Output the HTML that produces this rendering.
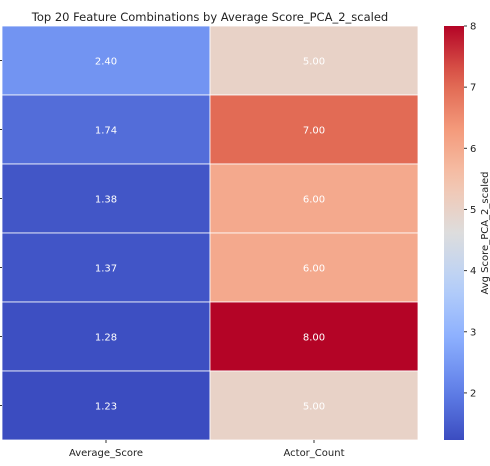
<!DOCTYPE html>
<html><head><meta charset="utf-8"><style>
body{margin:0;background:#fff;font-family:"DejaVu Sans","Liberation Sans",sans-serif}
</style></head><body>
<svg id="chart" width="490" height="462" xmlns="http://www.w3.org/2000/svg">
<defs><linearGradient id="cb" x1="0" y1="1" x2="0" y2="0"></linearGradient></defs>
<text x="210" y="21" text-anchor="middle" font-size="11.5" fill="#222">Top 20 Feature Combinations by Average Score_PCA_2_scaled</text>
<g id="cells"></g>
<g id="cbar"></g>
</svg>
<script>
const columns=["Average_Score","Actor_Count"];
const averageScore=[2.40,1.74,1.38,1.37,1.28,1.23];
const actorCount=[5,7,6,6,8,5];
const cbTicks=[2,3,4,5,6,7,8];
const vmin=1.23, vmax=8;
const stops=[[59,76,192],[98,130,234],[141,176,254],[184,208,249],[221,221,221],[245,196,173],[244,154,123],[222,96,77],[180,4,38]];
function cmap(v){let t=Math.max(0,Math.min(1,(v-vmin)/(vmax-vmin)))*8;let i=Math.min(7,Math.floor(t));let f=t-i;
const c=stops[i].map((a,k)=>Math.round(a+(stops[i+1][k]-a)*f));return `rgb(${c})`;}
const NS="http://www.w3.org/2000/svg";
function el(tag,attrs,parent){const e=document.createElementNS(NS,tag);for(const k in attrs)e.setAttribute(k,attrs[k]);parent.appendChild(e);return e;}
const x0=2,x1=418,y0=26,y1=440;
const cw=(x1-x0)/columns.length, rh=(y1-y0)/averageScore.length;
const xs=c=>x0+c*cw, ys=r=>y0+r*rh;
const cells=document.getElementById('cells'), svg=document.getElementById('chart');
const series=[averageScore,actorCount];
series.forEach((arr,c)=>arr.forEach((v,r)=>{
 const rect=el('rect',{x:xs(c),y:ys(r),width:cw,height:rh,fill:cmap(v),stroke:'#fff','stroke-width':0.8},cells);
 
 
 const t=el('text',{x:xs(c)+cw/2,y:ys(r)+rh/2+4,'text-anchor':'middle','font-size':10,fill:'#fff'},cells);
 
 
 t.textContent=v.toFixed(2);
}));
averageScore.forEach((v,r)=>{const l=el('line',{x1:0,x2:2,y1:ys(r)+rh/2,y2:ys(r)+rh/2,stroke:'#333'},svg);
 
 });
columns.forEach((n,c)=>{const cx=xs(c)+cw/2;
 const l=el('line',{x1:cx,x2:cx,y1:y1,y2:y1+3,stroke:'#333'},svg);
 
 
 const t=el('text',{x:cx,y:456,'text-anchor':'middle','font-size':10,fill:'#222'},svg);
 
 
 t.textContent=n;});
// colorbar
const g=document.getElementById('cb');
for(let i=0;i<=20;i++){const s=el('stop',{offset:(i/20),'stop-color':cmap(vmin+(vmax-vmin)*i/20)},g);}
const cb=document.getElementById('cbar');
const bx=444,bw=20;
const cy=v=>y1-(v-vmin)/(vmax-vmin)*(y1-y0);
const bar=el('rect',{x:bx,y:y0,width:bw,height:y1-y0,fill:'url(#cb)'},cb);


cbTicks.forEach(v=>{const l=el('line',{x1:bx+bw,x2:bx+bw+3,y1:cy(v),y2:cy(v),stroke:'#333'},cb);
 
 
 const t=el('text',{x:bx+bw+6,y:cy(v)+3.5,'font-size':10,fill:'#222'},cb);
 
 
 t.textContent=v;});
const ct=el('text',{x:0,y:0,'font-size':10,fill:'#222','text-anchor':'middle',transform:`translate(488,${(y0+y1)/2}) rotate(-90)`},cb);


ct.textContent='Avg Score_PCA_2_scaled';
</script>
</body></html>
